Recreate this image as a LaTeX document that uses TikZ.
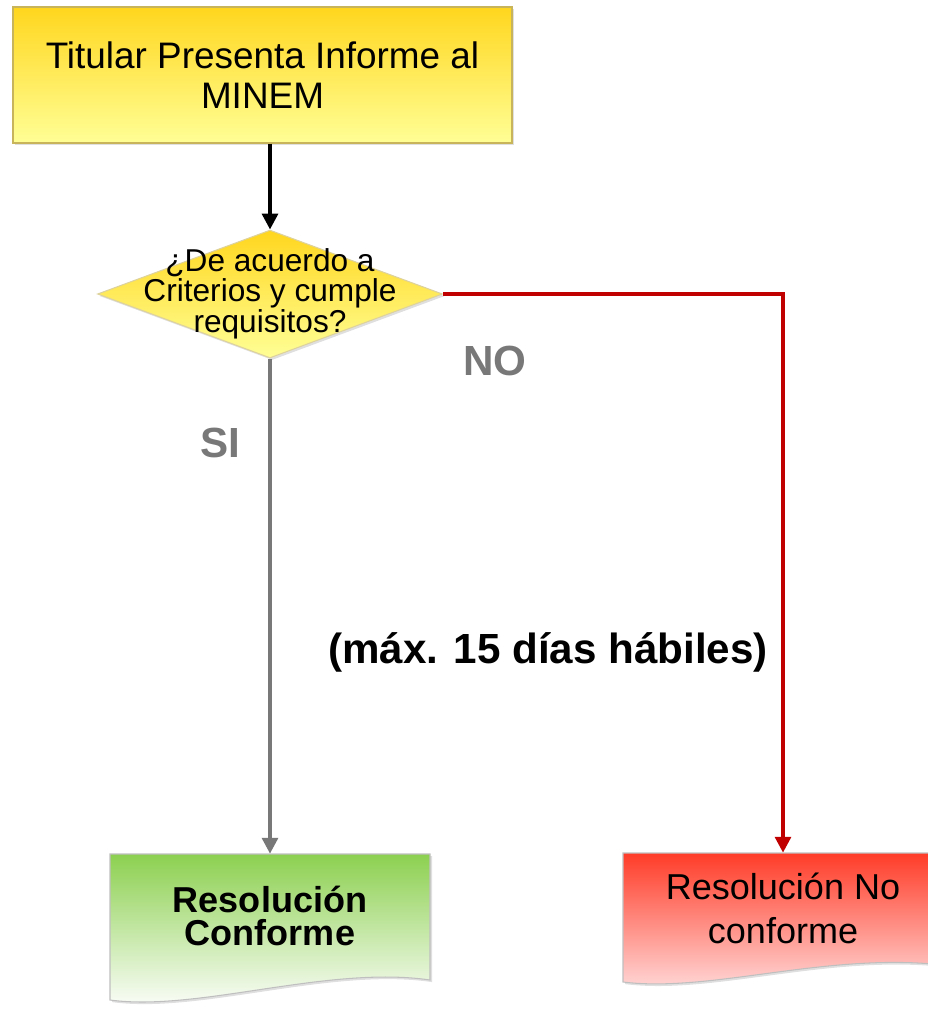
\documentclass[tikz,border=0pt]{standalone}
\usepackage{fontspec}
\setmainfont{Liberation Sans}
\usepackage{xcolor}
\usetikzlibrary{shapes.geometric,arrows.meta,shadows}
\definecolor{informeTop}{RGB}{255,214,30}
\definecolor{informeBottom}{RGB}{255,255,150}
\definecolor{informeBorder}{RGB}{200,180,90}
\definecolor{siGray}{RGB}{120,120,120}
\definecolor{noRed}{RGB}{192,0,0}
\definecolor{conformeTop}{RGB}{140,208,80}
\definecolor{noconfTop}{RGB}{255,60,40}
\definecolor{noconfBottom}{RGB}{255,220,220}

\begin{document}
\begin{tikzpicture}[x=0.02cm, y=-0.02cm,
  flujo/.style={-{Triangle[length=9pt,width=9pt]}, line width=2pt},
  sombra/.style={drop shadow={opacity=0.25, shadow xshift=1.2pt, shadow yshift=-1.2pt}},
  etiqueta/.style={font=\fontsize{24}{26}\selectfont\bfseries}]
\useasboundingbox (0,0) rectangle (928,1014);

% documentos (fondo)
\path[draw=black!25, line width=0.6pt, top color=conformeTop, bottom color=white, sombra]
  (110,854) -- (430,854) -- (430,980) .. controls (328,965) and (198,1012) .. (110,1000) -- cycle;
\path[draw=black!25, line width=0.6pt, top color=noconfTop, bottom color=noconfBottom, sombra]
  (623,853) -- (943,853) -- (943,965) .. controls (826,952) and (711,993) .. (623,982) -- cycle;

\node[draw=informeBorder, line width=0.8pt, top color=informeTop, bottom color=informeBottom, sombra,
  minimum width=9.98cm, minimum height=2.72cm, align=center,
  font=\fontsize{21}{23}\selectfont] (informe) at (262.5,75) {Titular Presenta Informe al\\MINEM};

\node[diamond, draw=informeBorder!60, line width=0.6pt, top color=informeTop, bottom color=informeBottom, sombra,
  minimum width=6.9cm, minimum height=2.56cm, inner sep=0pt,
  label={[align=center, font=\fontsize{18}{15.5}\selectfont]center:¿De acuerdo a\\Criterios y cumple\\requisitos?}] (decision) at (270,294) {};

\node[minimum width=6.4cm, minimum height=2.48cm, align=center,
  font=\fontsize{20.5}{19}\selectfont\bfseries] (conforme) at (270,916) {Resolución\\Conforme};
\node[minimum width=6.4cm, minimum height=2.2cm, align=center,
  font=\fontsize{20.5}{25}\selectfont] (noconforme) at (783,908) {Resolución No\\conforme};

\node[etiqueta, text=siGray] (etiquetaNo) at (495,361) {NO};
\node[etiqueta, text=siGray] (etiquetaSi) at (220,443) {SI};
\node[etiqueta] (plazo) at (548,652) {(máx. 15 días hábiles)};

\draw[flujo, black] (informe.south -| decision.north) -- (decision.north);
\draw[flujo, siGray] (decision.south) -- (conforme.north);
\draw[flujo, noRed] (decision.east) -| (noconforme.north);
\end{tikzpicture}
\end{document}
